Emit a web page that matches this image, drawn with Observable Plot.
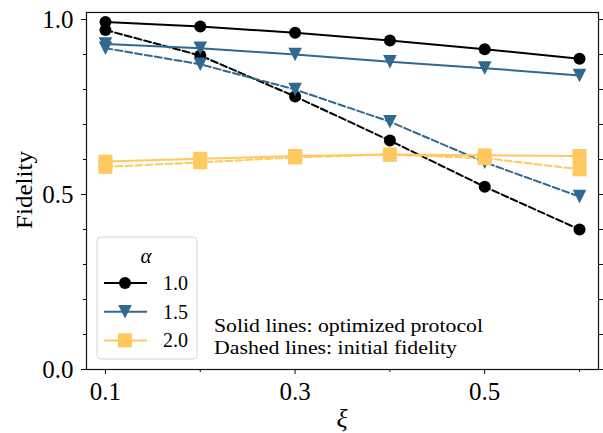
<!DOCTYPE html>
<html>
<head>
<meta charset="utf-8">
<script src="https://cdn.jsdelivr.net/npm/d3@7"></script>
<script src="https://cdn.jsdelivr.net/npm/@observablehq/plot@0.6"></script>
<style>
  html, body { margin: 0; padding: 0; background: #fff; }
  #chart { width: 603px; height: 433px; }
</style>
</head>
<body>
<div id="chart"></div>
<script>
// ---- data ----
const xi = [0.1, 0.2, 0.3, 0.4, 0.5, 0.6];
const alphas = ["1.0", "1.5", "2.0"];
const optimized10 = [0.993, 0.980, 0.962, 0.940, 0.915, 0.888];
const initial10   = [0.970, 0.897, 0.780, 0.654, 0.522, 0.400];
const optimized15 = [0.930, 0.918, 0.900, 0.879, 0.861, 0.840];
const initial15   = [0.918, 0.872, 0.800, 0.708, 0.592, 0.494];
const optimized20 = [0.594, 0.602, 0.610, 0.614, 0.612, 0.610];
const initial20   = [0.579, 0.592, 0.606, 0.614, 0.604, 0.572];
const xMajorTicks = [0.1, 0.3, 0.5];
const xMinorTicks = [0.2, 0.4, 0.6];
const yMajorTicks = [0.0, 0.5, 1.0];
const yMinorTicks = [0.1, 0.2, 0.3, 0.4, 0.6, 0.7, 0.8, 0.9];
const yRightTicks = [0.0, 0.1, 0.2, 0.3, 0.4, 0.5, 0.6, 0.7, 0.8, 0.9, 1.0];
const xLabel = "ξ";
const yLabel = "Fidelity";
const legendTitle = "α";
const noteLines = ["Solid lines: optimized protocol", "Dashed lines: initial fidelity"];

// ---- styles ----
const colors = {"1.0": "#000000", "1.5": "#31688F", "2.0": "#FFC95F"};
const FONT = "'Liberation Serif', 'Times New Roman', serif";

const triDown = {draw(ctx, size) { const a = Math.sqrt(size / Math.PI); ctx.moveTo(0, a); ctx.lineTo(-a, -a); ctx.lineTo(a, -a); ctx.closePath(); }};
const square = {draw(ctx, size) { const a = Math.sqrt(size / Math.PI); ctx.rect(-a, -a, 2 * a, 2 * a); }};
const symbols = {"1.0": "circle", "1.5": triDown, "2.0": square};
const radii = {"1.0": 6, "1.5": 6.8, "2.0": 7};

const seriesDefs = [
  {alpha: "1.0", kind: "opt", vals: optimized10},
  {alpha: "1.0", kind: "init", vals: initial10},
  {alpha: "1.5", kind: "opt", vals: optimized15},
  {alpha: "1.5", kind: "init", vals: initial15},
  {alpha: "2.0", kind: "opt", vals: optimized20},
  {alpha: "2.0", kind: "init", vals: initial20}
];

const marks = [];
for (const s of seriesDefs) {
  const rows = xi.map((x, i) => ({xi: x, F: s.vals[i]}));
  marks.push(Plot.line(rows, {
    x: "xi", y: "F", stroke: colors[s.alpha], strokeWidth: 2,
    strokeDasharray: s.kind === "init" ? "7,3" : null
  }));
  marks.push(Plot.dot(rows, {
    x: "xi", y: "F", r: radii[s.alpha], symbol: symbols[s.alpha],
    fill: colors[s.alpha], stroke: "none"
  }));
}

const chart = Plot.plot({
  width: 603, height: 433,
  marginLeft: 86, marginRight: 5, marginTop: 12, marginBottom: 64,
  style: {fontFamily: FONT, background: "#fff", overflow: "visible"},
  x: {domain: [0.08, 0.62], label: null},
  y: {domain: [0, 1.02], label: null},
  marks: [
    ...marks,
    Plot.frame({stroke: "#111", strokeWidth: 1.2}),
    Plot.axisX({ticks: xMajorTicks, tickSize: 5, tickPadding: 8, tickFormat: d => d.toFixed(1), fontSize: 25, label: null, stroke: "#111"}),
    Plot.axisX({ticks: xMinorTicks, tickSize: 3, tickFormat: () => "", label: null, stroke: "#111"}),
    Plot.axisY({ticks: yMajorTicks, tickSize: 5, tickPadding: 8, tickFormat: d => d.toFixed(1), fontSize: 25, label: null, stroke: "#111"}),
    Plot.axisY({ticks: yMinorTicks, tickSize: 3, tickFormat: () => "", label: null, stroke: "#111"}),
    Plot.axisY({anchor: "right", ticks: yRightTicks, tickSize: 5, tickFormat: () => "", label: null, stroke: "#111"})
  ]
});
document.getElementById("chart").appendChild(chart);

// ---- labels, legend, annotation ----
const svg = d3.select(chart);
svg.append("text").attr("x", 342).attr("y", 427)
  .attr("text-anchor", "middle").attr("font-family", FONT).attr("font-style", "italic")
  .attr("font-size", 26).attr("fill", "#000").text(xLabel);
svg.append("text").attr("transform", "translate(32,190) rotate(-90)")
  .attr("text-anchor", "middle").attr("font-family", FONT)
  .attr("font-size", 24).attr("fill", "#000")
  .attr("textLength", 78).attr("lengthAdjust", "spacingAndGlyphs").text(yLabel);

const lg = svg.append("g");
lg.append("rect").attr("x", 97).attr("y", 237).attr("width", 100).attr("height", 122)
  .attr("rx", 4).attr("fill", "#fff").attr("fill-opacity", 0.8)
  .attr("stroke", "#d4d4d4").attr("stroke-width", 1);
lg.append("text").attr("x", 146).attr("y", 263).attr("text-anchor", "middle")
  .attr("font-family", FONT).attr("font-style", "italic").attr("font-size", 21).text(legendTitle);
alphas.forEach((a, i) => {
  const cy = 283 + i * 28.7;
  lg.append("line").attr("x1", 104).attr("x2", 147).attr("y1", cy).attr("y2", cy)
    .attr("stroke", colors[a]).attr("stroke-width", 2);
  const type = symbols[a] === "circle" ? d3.symbolCircle : symbols[a];
  lg.append("path").attr("transform", `translate(125,${cy})`)
    .attr("d", d3.symbol().type(type).size(Math.PI * radii[a] * radii[a])())
    .attr("fill", colors[a]);
  lg.append("text").attr("x", 163).attr("y", cy + 7).attr("text-anchor", "start").attr("font-family", FONT)
    .attr("font-size", 20).attr("textLength", 25).attr("lengthAdjust", "spacingAndGlyphs").text(a);
});

const noteLen = [269, 243];
noteLines.forEach((t, i) => {
  svg.append("text").attr("x", 214).attr("y", 332 + i * 21.5).attr("text-anchor", "start").attr("font-family", FONT)
    .attr("font-size", 19).attr("textLength", noteLen[i]).attr("lengthAdjust", "spacingAndGlyphs").text(t);
});
</script>
</body>
</html>
